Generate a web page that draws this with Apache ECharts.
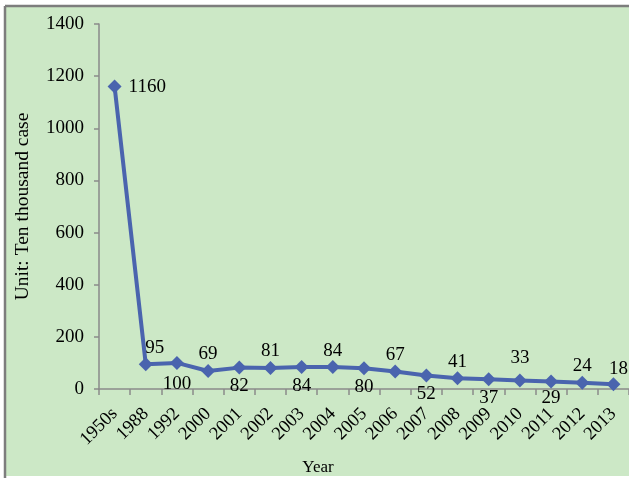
<!DOCTYPE html>
<html>
<head>
<meta charset="utf-8">
<script src="https://cdn.jsdelivr.net/npm/echarts@6/dist/echarts.min.js"></script>
<style>
  html, body { margin: 0; padding: 0; background: #ffffff; }
  #chart { width: 629px; height: 478px; }
</style>
</head>
<body>
<div id="chart"></div>
<script>
// Years on the category axis
const years = ['1950s', '1988', '1992', '2000', '2001', '2002', '2003', '2004', '2005',
  '2006', '2007', '2008', '2009', '2010', '2011', '2012', '2013'];
// Cases, in ten thousands
const cases = [1160, 95, 100, 69, 82, 81, 84, 84, 80, 67, 52, 41, 37, 33, 29, 24, 18];
// Value axis range
const yMin = 0;
const yMax = 1400;
const yStep = 200;

// Where each value label sits relative to its marker
const labelSide = ['right', 'top', 'bottom', 'top', 'bottom', 'top', 'bottom', 'top', 'bottom',
  'top', 'bottom', 'top', 'bottom', 'top', 'bottom', 'top', 'top'];
const labelShift = { 0: [7, 0], 1: [9, 0], 2: [0, 3], 13: [0, -6], 14: [0, -2], 16: [5, 1] };

const FONT = '"Liberation Serif", "Times New Roman", serif';
const AXIS_GRAY = '#8a8a8a';
const LINE_BLUE = '#4a64ae';

const chart = echarts.init(document.getElementById('chart'), null, { renderer: 'canvas' });

const seriesData = cases.map((v, i) => {
  const lbl = { position: labelSide[i], distance: labelSide[i] === 'bottom' ? 2 : 0 };
  if (labelShift[i]) lbl.offset = labelShift[i];
  return { value: v, label: lbl };
});

chart.setOption({
  animation: false,
  backgroundColor: '#ffffff',
  graphic: [
    { type: 'rect', z: -10, shape: { x: 5, y: 6, width: 640, height: 470 },
      style: { fill: '#cce8c6' }, silent: true },
    { type: 'line', z: -9, shape: { x1: 5, y1: 6, x2: 629, y2: 6 },
      style: { stroke: '#7d7d7d', lineWidth: 2.5 }, silent: true },
    { type: 'line', z: -9, shape: { x1: 5, y1: 6, x2: 5, y2: 478 },
      style: { stroke: '#7d7d7d', lineWidth: 2.5 }, silent: true }
  ],
  grid: { left: 99, right: 0, top: 24, bottom: 89, containLabel: false, outerBoundsMode: 'none' },
  xAxis: {
    type: 'category',
    data: years,
    boundaryGap: true,
    name: 'Year',
    nameLocation: 'middle',
    nameGap: 70,
    nameTextStyle: { fontFamily: FONT, fontSize: 17, color: '#000', padding: [0, 92, 0, 0] },
    axisLine: { lineStyle: { color: AXIS_GRAY, width: 1.5 } },
    axisTick: { show: true, length: 6, alignWithLabel: false, lineStyle: { color: AXIS_GRAY, width: 1.5 } },
    axisLabel: { rotate: 45, interval: 0, margin: 22, fontFamily: FONT, fontSize: 18.5, color: '#000' },
    splitLine: { show: false }
  },
  yAxis: {
    type: 'value',
    min: yMin,
    max: yMax,
    interval: yStep,
    name: 'Unit: Ten thousand case',
    nameLocation: 'middle',
    nameGap: 66,
    nameTextStyle: { fontFamily: FONT, fontSize: 19.5, color: '#000' },
    axisLine: { show: true, lineStyle: { color: AXIS_GRAY, width: 1.5 } },
    axisTick: { show: true, length: 5, lineStyle: { color: AXIS_GRAY, width: 1.5 } },
    axisLabel: { margin: 15, fontFamily: FONT, fontSize: 19, color: '#000',
      formatter: (v) => String(v) },
    splitLine: { show: false }
  },
  series: [{
    type: 'line',
    data: seriesData,
    symbol: 'diamond',
    symbolSize: 14,
    lineStyle: { color: LINE_BLUE, width: 4 },
    itemStyle: { color: LINE_BLUE },
    label: { show: true, fontFamily: FONT, fontSize: 19, color: '#000' }
  }]
});
</script>
</body>
</html>
